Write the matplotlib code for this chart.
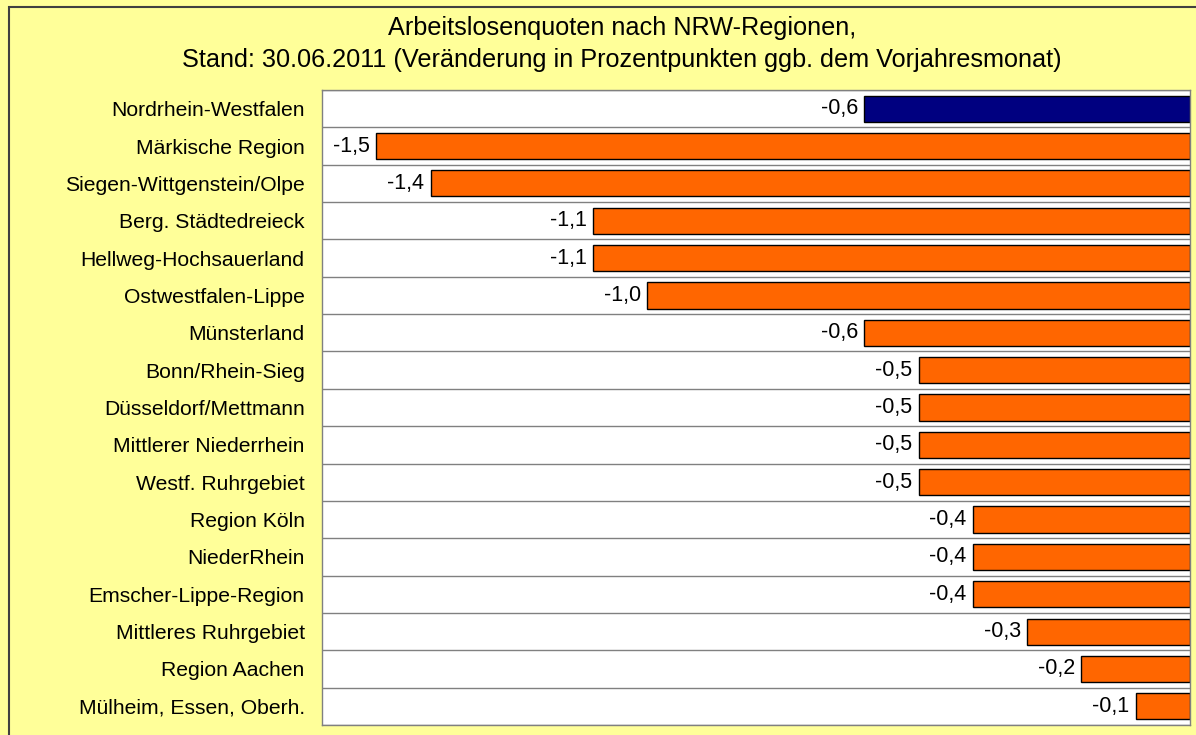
import matplotlib
matplotlib.use("Agg")
import matplotlib.pyplot as plt
from matplotlib.patches import Rectangle
import numpy as np

categories = ["Nordrhein-Westfalen", "Märkische Region", "Siegen-Wittgenstein/Olpe",
              "Berg. Städtedreieck", "Hellweg-Hochsauerland", "Ostwestfalen-Lippe",
              "Münsterland", "Bonn/Rhein-Sieg", "Düsseldorf/Mettmann",
              "Mittlerer Niederrhein", "Westf. Ruhrgebiet", "Region Köln",
              "NiederRhein", "Emscher-Lippe-Region", "Mittleres Ruhrgebiet",
              "Region Aachen", "Mülheim, Essen, Oberh."]
values = [-0.6, -1.5, -1.4, -1.1, -1.1, -1.0, -0.6, -0.5, -0.5, -0.5, -0.5,
          -0.4, -0.4, -0.4, -0.3, -0.2, -0.1]
title_lines = ["Arbeitslosenquoten nach NRW-Regionen,",
               "Stand: 30.06.2011 (Veränderung in Prozentpunkten ggb. dem Vorjahresmonat)"]

plt.rcParams['font.family'] = ['Liberation Sans', 'DejaVu Sans']

W, H = 1196, 735
fig = plt.figure(figsize=(W/100, H/100), dpi=100)
fig.patch.set_facecolor('#FFFF99')

# outer frame
fig.patches.append(Rectangle((9/W, -0.1), 1.2, 1 - 7/H + 0.1, transform=fig.transFigure,
                             fill=False, edgecolor='#404040', linewidth=1.5))

ax = fig.add_axes([322/W, 1 - 725/H, (1190 - 322)/W, (725 - 90)/H])
ax.set_facecolor('white')

n = len(categories)
y = np.arange(n)
colors = ['#000080'] + ['#FF6600'] * (n - 1)
ax.barh(y, values, height=0.7, color=colors, edgecolor='black', linewidth=1)

for yi, v in zip(y, values):
    ax.text(v - 0.012, yi, f"{v:.1f}".replace('.', ','), ha='right', va='center',
            fontsize=15.5, color='black')

ax.set_xlim(-1.6, 0)
ax.set_ylim(n - 0.5, -0.5)
ax.set_xticks([])
ax.set_yticks(y)
ax.set_yticklabels(categories, fontsize=15.2)
ax.tick_params(axis='y', length=0, pad=12.5)
for yb in np.arange(-0.5, n, 1):
    ax.axhline(yb, color='#808080', linewidth=1)
for s in ax.spines.values():
    s.set_color('#808080')
    s.set_linewidth(1)

fig.text(622/W, 1 - 28/H, title_lines[0], ha='center', va='center', fontsize=18.2)
fig.text(622/W, 1 - 60/H, title_lines[1], ha='center', va='center', fontsize=18.2)

fig.savefig("out.png", dpi=100, facecolor=fig.get_facecolor())
